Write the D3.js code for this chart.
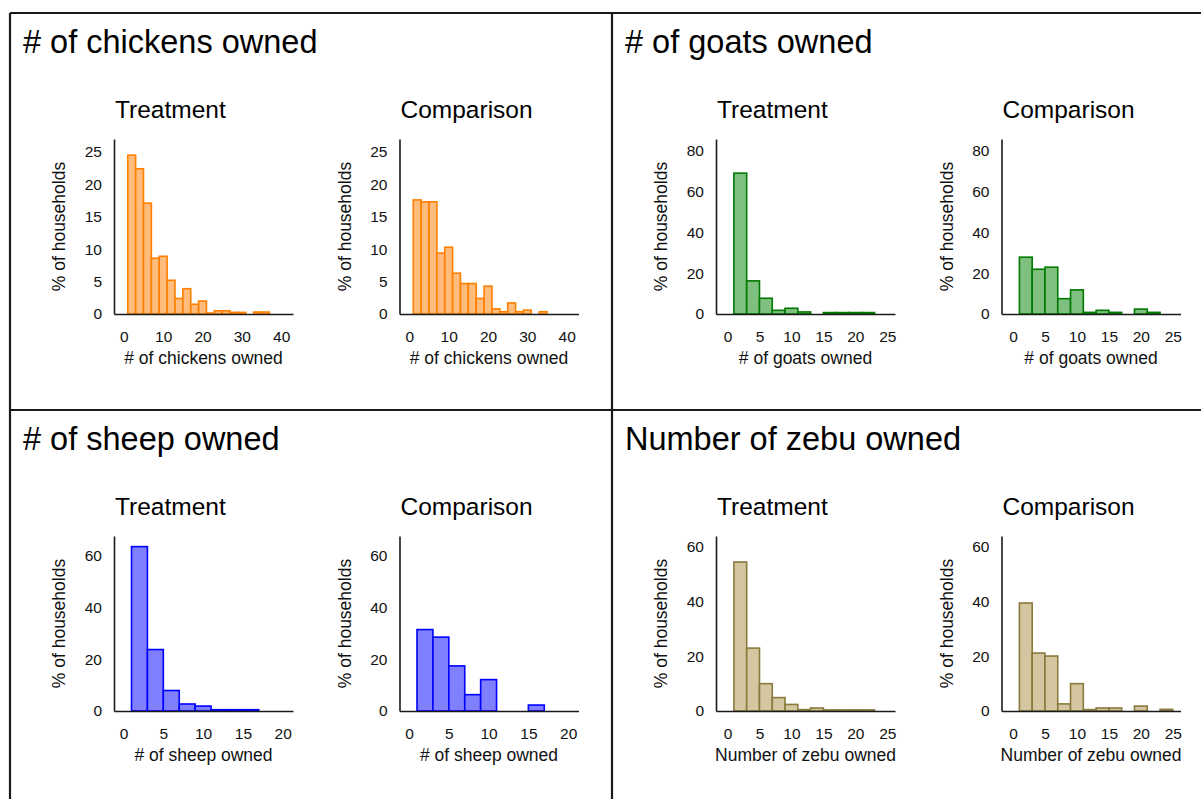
<!DOCTYPE html>
<html>
<head>
<meta charset="utf-8">
<script src="https://cdn.jsdelivr.net/npm/d3@7/dist/d3.min.js"></script>
<style>
  html, body { margin: 0; padding: 0; background: #fff; }
  svg { display: block; font-family: "Liberation Sans", Arial, sans-serif; }
  .axis path { stroke: #1a1a1a; stroke-width: 1.6px; }
  .axis text { fill: #111; }
</style>
</head>
<body>
<svg id="chart" width="1201" height="799"></svg>
<script>
// Livestock ownership histograms: % of households per 2-animal bin, starting at 1 animal.
const binStart = 1;
const binWidth = 2;

const chickensTreatment  = [24.5, 22.4, 17.1, 8.6, 8.9, 5.2, 2.4, 3.9, 1.5, 2.0, 0.15, 0.5, 0.5, 0.25, 0.25, 0, 0.3, 0.3];
const chickensComparison = [17.6, 17.3, 17.3, 9.4, 10.3, 6.3, 4.7, 4.7, 2.4, 4.3, 0.8, 0.35, 1.7, 0.35, 0.6, 0, 0.35];
const goatsTreatment     = [68.9, 16.2, 7.7, 1.8, 2.8, 1.0, 0, 0.7, 0.7, 0.7, 0.7];
const goatsComparison    = [27.8, 21.9, 22.9, 7.5, 11.8, 0.8, 1.8, 0.8, 0, 2.4, 0.8];
const sheepTreatment     = [63.4, 23.7, 7.9, 2.7, 1.9, 0.5, 0.5, 0.5];
const sheepComparison    = [31.4, 28.5, 17.4, 6.3, 12.1, 0, 0, 2.3];
const zebuTreatment      = [54.5, 23.0, 10.0, 4.9, 2.4, 0.5, 1.1, 0.4, 0.4, 0.4, 0.4];
const zebuComparison     = [39.5, 21.2, 20.1, 2.6, 10.0, 0.5, 1.1, 1.1, 0, 1.8, 0, 0.6];

const groupNames = ["Treatment", "Comparison"];
const yAxisTitle = "% of households";

const chickenXTicks = [0, 10, 20, 30, 40];
const chickenYTicks = [0, 5, 10, 15, 20, 25];
const goatXTicks = [0, 5, 10, 15, 20, 25];
const goatYTicks = [0, 20, 40, 60, 80];
const sheepXTicks = [0, 5, 10, 15, 20];
const sheepYTicks = [0, 20, 40, 60];
const zebuXTicks = [0, 5, 10, 15, 20, 25];
const zebuYTicks = [0, 20, 40, 60];

// One panel per animal, laid out in a 2x2 grid.
const panels = [
  { title: "# of chickens owned", xTitle: "# of chickens owned", series: [chickensTreatment, chickensComparison],
    xTicks: chickenXTicks, yTicks: chickenYTicks, xDomain: [-2.5, 43], yDomain: [0, 27],
    fill: "#ffbc7c", stroke: "#ff7f00", col: 0, row: 0 },
  { title: "# of goats owned", xTitle: "# of goats owned", series: [goatsTreatment, goatsComparison],
    xTicks: goatXTicks, yTicks: goatYTicks, xDomain: [-1.8, 26.2], yDomain: [0, 85.6],
    fill: "#7fbf7f", stroke: "#007a00", col: 1, row: 0 },
  { title: "# of sheep owned", xTitle: "# of sheep owned", series: [sheepTreatment, sheepComparison],
    xTicks: sheepXTicks, yTicks: sheepYTicks, xDomain: [-1.2, 21.3], yDomain: [0, 67.5],
    fill: "#8080ff", stroke: "#0000ff", col: 0, row: 1 },
  { title: "Number of zebu owned", xTitle: "Number of zebu owned", series: [zebuTreatment, zebuComparison],
    xTicks: zebuXTicks, yTicks: zebuYTicks, xDomain: [-1.8, 26.2], yDomain: [0, 64],
    fill: "#d3c6a0", stroke: "#8a7a3c", col: 1, row: 1 }
];

const svg = d3.select("#chart");
svg.append("rect").attr("width", 1201).attr("height", 799).attr("fill", "#fff");

const gridX = [10, 612];
const gridY = [13, 410];
const plotOffsets = [104, 389.5];   // y-axis position of each sub-plot inside a panel
const plotTop = 126;
const plotH = 175;
const plotW = 179;

panels.forEach(p => {
  const px = gridX[p.col], py = gridY[p.row];
  const g = svg.append("g").attr("transform", `translate(${px},${py})`);

  g.append("text")
    .attr("x", 13).attr("y", 40)
    .attr("font-size", 32.5).attr("fill", "#000")
    .text(p.title);

  p.series.forEach((values, si) => {
    const sg = g.append("g").attr("transform", `translate(${plotOffsets[si]},${plotTop})`);
    const x = d3.scaleLinear().domain(p.xDomain).range([0, plotW]);
    const y = d3.scaleLinear().domain(p.yDomain).range([plotH, 0]);

    sg.append("text")
      .attr("x", 1).attr("y", -21)
      .attr("font-size", 24.5).attr("fill", "#000")
      .text(groupNames[si]);

    sg.selectAll("rect.bar")
      .data(values.map((v, i) => ({ lo: binStart + i * binWidth, hi: binStart + (i + 1) * binWidth, v })))
      .join("rect")
      .attr("class", "bar")
      .filter(d => d.v > 0)
      .attr("x", d => x(d.lo))
      .attr("width", d => x(d.hi) - x(d.lo))
      .attr("y", d => y(d.v))
      .attr("height", d => y(0) - y(d.v))
      .attr("fill", p.fill)
      .attr("stroke", p.stroke)
      .attr("stroke-width", 1.6);

    sg.append("g").attr("class", "axis")
      .attr("transform", `translate(0,${plotH})`)
      .call(d3.axisBottom(x).tickValues(p.xTicks).tickSizeInner(0).tickSizeOuter(0).tickPadding(17))
      .call(a => a.selectAll("text").attr("font-size", 15.5).attr("font-family", null));

    sg.append("g").attr("class", "axis")
      .call(d3.axisLeft(y).tickValues(p.yTicks).tickSizeInner(0).tickSizeOuter(0).tickPadding(12))
      .call(a => a.selectAll("text").attr("font-size", 15.5).attr("font-family", null));

    sg.append("text")
      .attr("x", plotW / 2).attr("y", plotH + 50)
      .attr("text-anchor", "middle").attr("font-size", 17.5).attr("fill", "#111")
      .text(p.xTitle);

    sg.append("text")
      .attr("transform", `translate(-49,${plotH / 2}) rotate(-90)`)
      .attr("text-anchor", "middle").attr("font-size", 17.5).attr("fill", "#111")
      .text(yAxisTitle);
  });
});

// Grid frame separating the four panels
const frame = svg.append("g").attr("stroke", "#1a1a1a").attr("stroke-width", 2.2);
frame.append("line").attr("x1", 10).attr("x2", 1201).attr("y1", 13).attr("y2", 13);
frame.append("line").attr("x1", 10).attr("x2", 10).attr("y1", 13).attr("y2", 799);
frame.append("line").attr("x1", 612).attr("x2", 612).attr("y1", 13).attr("y2", 799);
frame.append("line").attr("x1", 10).attr("x2", 1201).attr("y1", 410).attr("y2", 410);
</script>
</body>
</html>
